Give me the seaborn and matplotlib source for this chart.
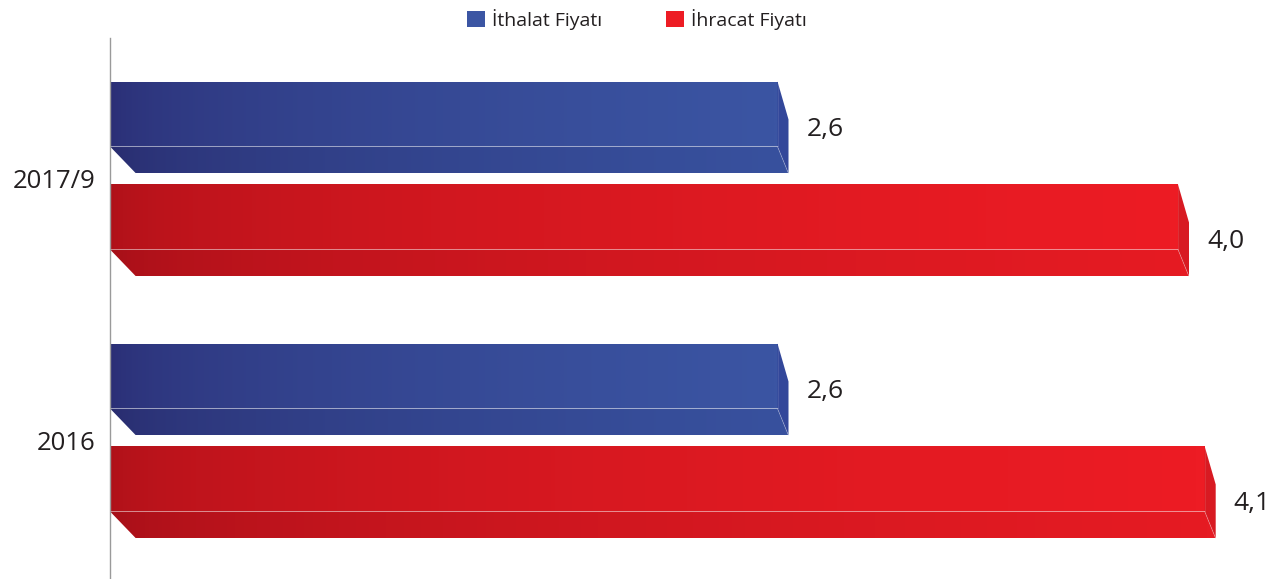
import numpy as np
import pandas as pd
import matplotlib
matplotlib.use("Agg")
import matplotlib.pyplot as plt
import seaborn as sns
from matplotlib.patches import Polygon, Patch
from matplotlib.colors import LinearSegmentedColormap

# ---- data (bar lengths as drawn in the picture, labels as printed) ----
categories = ["2017/9", "2016"]
series = ["İthalat Fiyatı", "İhracat Fiyatı"]
import_values = [2.5, 2.5]
export_values = [4.0, 4.1]
import_labels = ["2,6", "2,6"]
export_labels = ["4,0", "4,1"]

df = pd.DataFrame({
    "cat": categories * 2,
    "series": [series[0]] * 2 + [series[1]] * 2,
    "value": import_values + export_values,
})
labels = {series[0]: import_labels, series[1]: export_labels}

# ---- style ----
sns.set_theme(style="white")
plt.rcParams["font.family"] = ["Open Sans", "DejaVu Sans"]

front_cols = {
    series[0]: ("#2a2d74", "#3b55a3"),
    series[1]: ("#ae1119", "#ed1c24"),
}
bottom_cols = {
    series[0]: ("#282a6c", "#38519e"),
    series[1]: ("#a40f18", "#e61b23"),
}
side_cols = {series[0]: "#33479a", series[1]: "#d81a22"}
label_dy = {series[0]: 2, series[1]: 11}

W, H = 1274, 579
fig = plt.figure(figsize=(W / 100, H / 100), dpi=100)
ax = fig.add_axes([110 / W, 1 / H, 1 - 110 / W, (578 - 38) / H])

sns.barplot(data=df, y="cat", x="value", hue="series", hue_order=series,
            order=categories, orient="h", width=0.786, gap=0.107,
            palette=[front_cols[s][1] for s in series], legend=False, ax=ax)

xmax = 1164 / 267.0
ylim = (1.523, -0.538)
ax.set_xlim(0, xmax)
ax.set_ylim(*ylim)

ax_w_px = (1 - 110 / W) * W
ax_h_px = 540
px_x = ax_w_px / xmax
px_y = ax_h_px / abs(ylim[0] - ylim[1])

dxL = 26 / px_x
dxR = 11 / px_x
dslant = 38 / px_y

for container, s in zip(ax.containers, series):
    cmap_f = LinearSegmentedColormap.from_list("f", front_cols[s])
    cmap_b = LinearSegmentedColormap.from_list("b", bottom_cols[s])
    for i, bar in enumerate(container):
        bar.set_visible(False)
        x0, w = bar.get_x(), bar.get_width()
        y0, h = bar.get_y(), bar.get_height()
        yf = y0 + h * 65 / 92
        yb = y0 + h
        xe = x0 + w
        grad = np.linspace(0, 1, 256).reshape(1, -1) ** 0.5

        front = Polygon([(x0, y0), (xe, y0), (xe, yf), (x0, yf)],
                        closed=True, facecolor="none", edgecolor="none")
        ax.add_patch(front)
        im = ax.imshow(grad, cmap=cmap_f, aspect="auto",
                       extent=[x0, xe, yf, y0], zorder=2)
        im.set_clip_path(front)

        bottom = Polygon([(x0, yf), (x0 + dxL, yb), (xe + dxR, yb), (xe, yf)],
                         closed=True, facecolor="none", edgecolor="none")
        ax.add_patch(bottom)
        im2 = ax.imshow(grad, cmap=cmap_b, aspect="auto",
                        extent=[x0, xe + dxR, yb, yf], zorder=2)
        im2.set_clip_path(bottom)

        side = Polygon([(xe, y0), (xe + dxR, y0 + dslant), (xe + dxR, yb), (xe, yf)],
                       closed=True, facecolor=side_cols[s], edgecolor="none", zorder=2)
        ax.add_patch(side)
        ax.plot([x0, xe], [yf, yf], color="white", alpha=0.12, lw=0.8, zorder=3)
        ax.plot([xe, xe + dxR], [yf, yb], color="white", alpha=0.3, lw=0.6, zorder=3)
        ax.plot([xe, xe], [y0, yf], color="white", alpha=0.12, lw=0.6, zorder=3)

        ax.text(xe + dxR + 18 / px_x, (y0 + yb) / 2 + label_dy[s] / px_y,
                labels[s][i], ha="left", va="center",
                fontsize=19, color="#231f20", zorder=4)

ax.set_xlim(0, xmax)
ax.set_ylim(*ylim)

for side_name in ["top", "right", "bottom"]:
    ax.spines[side_name].set_visible(False)
ax.spines["left"].set_color("#9a9a9a")
ax.spines["left"].set_linewidth(1.0)
ax.set_xticks([])
ax.tick_params(axis="y", length=0, pad=10.8, labelsize=18.5, labelcolor="#231f20")
ax.set_xlabel("")
ax.set_ylabel("")

handles = [Patch(facecolor=front_cols[s][1], edgecolor="none", label=s) for s in series]
fig.legend(handles=handles, loc="center", bbox_to_anchor=(0.500, 0.967), ncol=2,
           frameon=False, fontsize=14, handlelength=0.93, handleheight=0.93,
           handletextpad=0.35, columnspacing=3.3, labelcolor="#231f20")

fig.savefig("out.png", dpi=100)
